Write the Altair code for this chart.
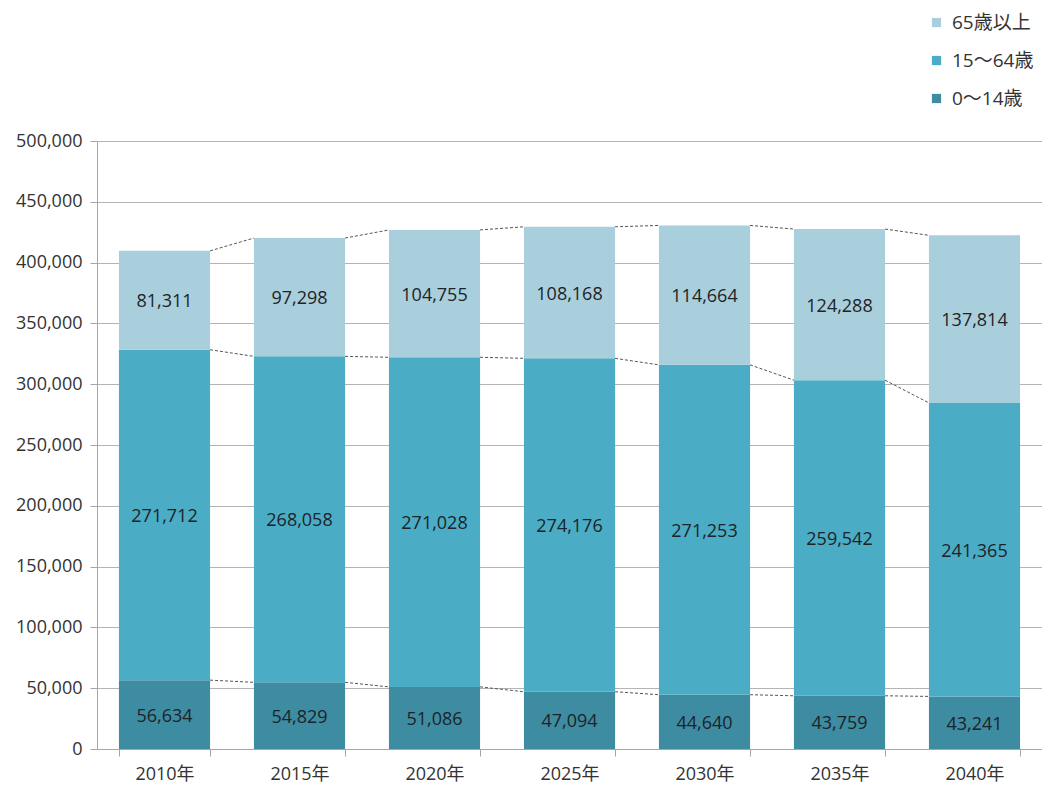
import altair as alt
import pandas as pd

years = ["2010年", "2015年", "2020年", "2025年", "2030年", "2035年", "2040年"]
age_0_14 = [56634, 54829, 51086, 47094, 44640, 43759, 43241]
age_15_64 = [271712, 268058, 271028, 274176, 271253, 259542, 241365]
age_65 = [81311, 97298, 104755, 108168, 114664, 124288, 137814]
groups = ["0～14歳", "15～64歳", "65歳以上"]
colors = ["#3D8CA2", "#4BACC6", "#A9CEDC"]
legend_order = ["65歳以上", "15～64歳", "0～14歳"]

series = [age_0_14, age_15_64, age_65]
rows = []
for gi, (g, vals) in enumerate(zip(groups, series)):
    for y, v in zip(years, vals):
        rows.append({"year": y, "group": g, "value": v, "order": gi})
df = pd.DataFrame(rows)

# connector lines between cumulative levels of adjacent bars
levels = []
for i in range(len(years)):
    c0 = age_0_14[i]
    c1 = c0 + age_15_64[i]
    c2 = c1 + age_65[i]
    levels.append([c0, c1, c2])
conn = []
for i in range(len(years) - 1):
    for k in range(3):
        conn.append({"year": years[i], "next": years[i + 1],
                     "y_from": levels[i][k], "y_to": levels[i + 1][k]})
conn_df = pd.DataFrame(conn)

FONT = "'Open Sans', 'Noto Sans CJK JP', sans-serif"
FS = 18

x_scale = alt.Scale(paddingInner=0.325, paddingOuter=0.1625)
y_scale = alt.Scale(domain=[0, 500000])

x_enc = alt.X("year:N", sort=years, scale=x_scale,
              axis=alt.Axis(title=None, labelAngle=0, tickBand="extent",
                            labelFontSize=FS, labelColor="#333333", labelFont=FONT,
                            domainColor="#A6A6A6", tickColor="#A6A6A6",
                            tickSize=7, labelPadding=9, grid=False))
y_enc = alt.Y("value:Q", stack="zero", scale=y_scale,
              axis=alt.Axis(title=None, values=list(range(0, 500001, 50000)),
                            format=",d", labelFontSize=FS, labelColor="#333333",
                            labelFont=FONT, domainColor="#A6A6A6", tickColor="#A6A6A6",
                            gridColor="#B4B4B4", tickSize=7, labelPadding=8))

bars = alt.Chart(df).mark_bar().encode(
    x=x_enc,
    y=y_enc,
    color=alt.Color("group:N",
                    scale=alt.Scale(domain=groups, range=colors),
                    sort=legend_order,
                    legend=alt.Legend(title=None, orient="none", legendX=830, legendY=-128,
                                      symbolType="square", symbolSize=85,
                                      symbolStrokeWidth=0, labelFontSize=19,
                                      labelFont=FONT, labelColor="#333333",
                                      rowPadding=18, labelOffset=6, padding=0,
                                      values=legend_order)),
    order=alt.Order("order:Q"),
)

rules = alt.Chart(conn_df).mark_rule(strokeDash=[3, 2], color="#555555", strokeWidth=1).encode(
    x=alt.X("year:N", sort=years, bandPosition=1),
    x2=alt.X2("next:N", bandPosition=0),
    y=alt.Y("y_from:Q"),
    y2=alt.Y2("y_to:Q"),
)

labels = alt.Chart(df).transform_stack(
    stack="value", groupby=["year"], sort=[alt.SortField("order")], as_=["y0", "y1"]
).transform_calculate(
    mid="(datum.y0 + datum.y1) / 2"
).mark_text(fontSize=FS, color="#1E2327", font=FONT, dy=2).encode(
    x=alt.X("year:N", sort=years),
    y=alt.Y("mid:Q"),
    text=alt.Text("value:Q", format=",d"),
)

chart = alt.layer(bars, rules, labels).properties(
    width=945, height=608,
    padding={"left": 89, "top": 133, "right": 0, "bottom": 36},
    autosize=alt.AutoSizeParams(type="none"),
).configure_view(stroke=None).configure(font=FONT)

chart.save("out.html", embed_options={"renderer": "svg", "actions": False})
